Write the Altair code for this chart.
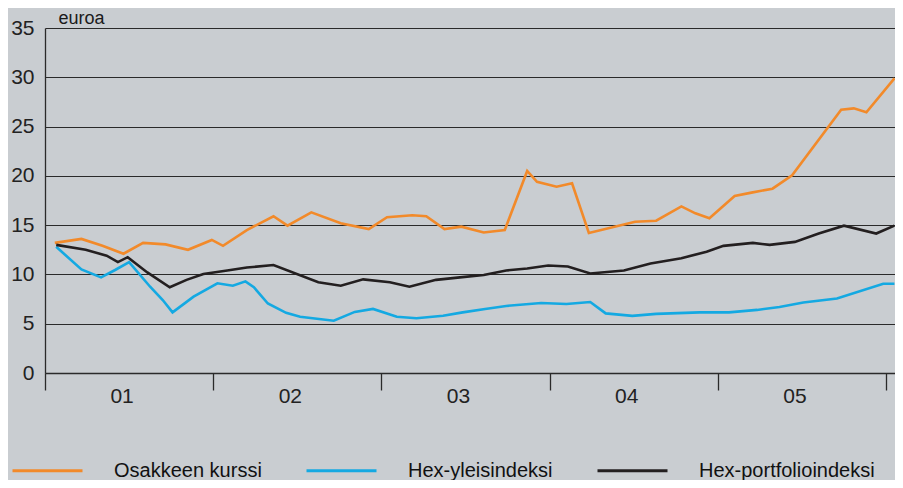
import altair as alt
import pandas as pd

series_names = ["Osakkeen kurssi", "Hex-yleisindeksi", "Hex-portfolioindeksi"]
series_colors = ["#f28a2a", "#14a9e2", "#231f20"]

# x = months since start of 2001
osake_month = [0.7, 2.6, 4.1, 5.6, 7.0, 8.6, 10.2, 11.9, 12.7, 14.4, 16.3, 17.3,
               19.0, 21.1, 23.1, 24.4, 26.2, 27.2, 28.5, 29.7, 31.3, 32.8, 34.4,
               35.1, 36.5, 37.6, 38.8, 42.1, 43.6, 45.4, 46.4, 47.4, 49.2, 50.4,
               51.9, 53.3, 56.8, 57.7, 58.6, 60.6]
osake_value = [13.2, 13.6, 12.9, 12.1, 13.2, 13.05, 12.5, 13.5, 12.9, 14.5, 15.9, 14.95,
               16.3, 15.2, 14.6, 15.8, 16.0, 15.9, 14.6, 14.85, 14.25, 14.5, 20.5,
               19.4, 18.9, 19.25, 14.2, 15.35, 15.45, 16.9, 16.2, 15.7, 17.95, 18.3,
               18.7, 20.05, 26.7, 26.85, 26.45, 29.9]

hex_month = [0.8, 2.6, 4.0, 5.0, 6.0, 7.5, 8.4, 9.1, 10.6, 12.3, 13.4, 14.3, 14.9,
             15.9, 17.2, 18.2, 19.4, 20.6, 22.1, 23.4, 25.1, 26.5, 28.4, 29.8, 31.4,
             32.9, 35.4, 37.2, 38.9, 40.0, 41.9, 43.6, 46.7, 48.8, 50.8, 52.4, 54.1,
             56.5, 59.8, 60.6]
hex_value = [12.8, 10.5, 9.7, 10.45, 11.25, 8.75, 7.4, 6.15, 7.75, 9.1, 8.85, 9.3, 8.7,
             7.05, 6.1, 5.7, 5.5, 5.3, 6.2, 6.5, 5.7, 5.55, 5.8, 6.15, 6.5,
             6.8, 7.1, 7.0, 7.2, 6.05, 5.8, 6.0, 6.15, 6.15, 6.4, 6.7, 7.15,
             7.55, 9.05, 9.05]

port_month = [0.8, 2.9, 4.4, 5.2, 5.9, 7.3, 8.9, 10.1, 11.3, 13.0, 14.4, 16.3, 19.5,
              21.1, 22.7, 24.6, 26.0, 27.9, 29.6, 31.3, 32.9, 34.4, 35.9, 37.3, 38.9,
              41.3, 43.2, 45.4, 47.2, 48.4, 50.5, 51.7, 53.5, 55.2, 57.0, 59.3, 60.6]
port_value = [13.0, 12.5, 11.9, 11.25, 11.75, 10.2, 8.7, 9.45, 10.05, 10.4, 10.7, 10.95, 9.2,
              8.85, 9.5, 9.2, 8.75, 9.45, 9.7, 9.95, 10.4, 10.6, 10.9, 10.8, 10.1,
              10.4, 11.1, 11.65, 12.3, 12.9, 13.2, 13.0, 13.3, 14.15, 14.95, 14.15, 14.95]

year_labels = ["01", "02", "03", "04", "05"]
year_label_month = [5.5, 17.5, 29.5, 41.5, 53.5]
year_tick_month = [0, 12, 24, 36, 48, 60]
y_ticks = [0, 5, 10, 15, 20, 25, 30, 35]

rows = []
for name, ms, vs in zip(series_names, [osake_month, hex_month, port_month],
                        [osake_value, hex_value, port_value]):
    for m, v in zip(ms, vs):
        rows.append({"month": m, "value": v, "series": name})
df = pd.DataFrame(rows)
labels_df = pd.DataFrame({"month": year_label_month, "label": year_labels})

FONT = "Liberation Sans"
DARK = "#2a2a2a"

x_scale = alt.Scale(domain=[0, 60.64], nice=False, zero=False)
x_axis = alt.Axis(values=year_tick_month, labels=False, title=None, grid=False,
                  tickSize=17, tickColor=DARK, tickWidth=1.3,
                  domainColor=DARK, domainWidth=1.3)

lines = alt.Chart(df).mark_line(strokeWidth=2.6).encode(
    x=alt.X("month:Q", scale=x_scale, axis=x_axis),
    y=alt.Y("value:Q",
            scale=alt.Scale(domain=[0, 35], nice=False),
            axis=alt.Axis(values=y_ticks, title="euroa", titleAngle=0, titleX=13, titleY=-5,
                          titleAlign="left", titleBaseline="alphabetic", titleFontSize=18,
                          titleFontWeight="normal", titleFont=FONT, titleColor="#1a1a1a",
                          ticks=False, labelPadding=11, labelFontSize=21, labelFont=FONT,
                          labelColor="#222222", grid=True, gridColor=DARK, gridWidth=1.2,
                          domainColor=DARK, domainWidth=1.3)),
    color=alt.Color("series:N",
                    scale=alt.Scale(domain=series_names, range=series_colors),
                    legend=alt.Legend(orient="none", legendX=-34, legendY=406,
                                      direction="horizontal", columns=3,
                                      symbolType="stroke", symbolSize=4900,
                                      symbolStrokeWidth=3, labelOffset=30,
                                      columnPadding=38, labelFont=FONT,
                                      labelFontSize=20, labelColor="#111111",
                                      labelLimit=400, title=None, padding=0)),
)

year_text = alt.Chart(labels_df).mark_text(fontSize=21, font=FONT, baseline="alphabetic",
                                           color="#222222").encode(
    x=alt.X("month:Q", scale=x_scale, axis=x_axis),
    y=alt.value(375),
    text="label:N",
)

chart = alt.layer(lines, year_text).properties(
    width=850, height=345,
    autosize=alt.AutoSizeParams(type="none"),
    padding={"left": 37, "top": 20, "right": 0, "bottom": 107},
).configure_view(stroke=None).configure(background="#c9cdd1")

chart.save("out.html", embed_options={"renderer": "svg", "actions": False})
